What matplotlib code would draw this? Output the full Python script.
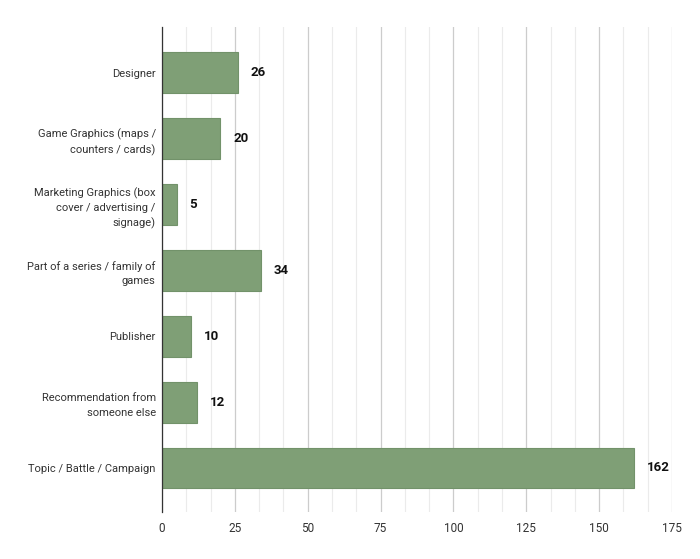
import matplotlib
matplotlib.use("Agg")
import matplotlib.pyplot as plt
from matplotlib.ticker import MultipleLocator

plt.rcParams['font.family'] = ['Roboto', 'DejaVu Sans']

categories = [
    "Designer",
    "Game Graphics (maps /\ncounters / cards)",
    "Marketing Graphics (box\ncover / advertising /\nsignage)",
    "Part of a series / family of\ngames",
    "Publisher",
    "Recommendation from\nsomeone else",
    "Topic / Battle / Campaign",
]
values = [26, 20, 5, 34, 10, 12, 162]
xticks = [0, 25, 50, 75, 100, 125, 150, 175]

fig = plt.figure(figsize=(7.0, 5.59), dpi=100)
ax = fig.add_axes([162/700, 1-512/559, (672-162)/700, (512-27)/559])

y = list(range(len(categories)))
ax.barh(y, values, height=0.62, color='#7f9f76', edgecolor='#72926a', linewidth=0.8, zorder=3)
for yi, v in zip(y, values):
    ax.text(v + 4.4, yi, str(v), va='center', ha='left', fontsize=9.5, fontweight='bold', color='#111111', zorder=4)

ax.set_xlim(0, 175)
ax.set_ylim(6.668, -0.694)
ax.set_xticks(xticks)
ax.set_xticklabels([str(t) for t in xticks])
ax.xaxis.set_minor_locator(MultipleLocator(25/3))
ax.set_yticks(y)
ax.set_yticklabels(categories, fontsize=8, color='#333333')
ax.tick_params(axis='y', length=0, pad=4.5)
ax.tick_params(axis='x', which='both', length=0, pad=7, labelsize=8.5, labelcolor='#333333')
ax.grid(axis='x', which='major', color='#cccccc', linewidth=0.9, zorder=0)
ax.grid(axis='x', which='minor', color='#ebebeb', linewidth=0.8, zorder=0)
for s in ['top', 'right', 'bottom']:
    ax.spines[s].set_visible(False)
ax.spines['left'].set_color('#333333')
ax.spines['left'].set_linewidth(0.9)
ax.spines['left'].set_zorder(5)
for lab in ax.get_yticklabels():
    lab.set_multialignment('right')
    lab.set_linespacing(1.55)

fig.savefig('out.png', dpi=100)
